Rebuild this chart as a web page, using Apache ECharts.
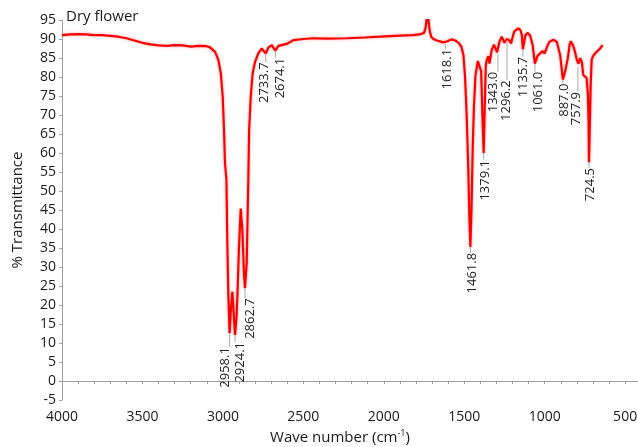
<!DOCTYPE html>
<html>
<head>
<meta charset="utf-8">
<script src="https://cdn.jsdelivr.net/npm/echarts@6/dist/echarts.min.js"></script>
<style>
html,body{margin:0;padding:0;background:#fff;}
#chart{width:638px;height:447px;}
</style>
</head>
<body>
<div id="chart"></div>
<script>
// ---- data ----
const wavenumbers = [
  4000, 3950, 3900, 3850, 3800, 3750, 3700, 3650, 3600, 3550,
  3500, 3450, 3400, 3350, 3300, 3250, 3200, 3150, 3142, 3100,
  3080, 3049, 3028, 3013, 3001, 2993, 2987, 2978, 2972, 2966,
  2958.1, 2950, 2941, 2933, 2929, 2924.1, 2915, 2910, 2900, 2889,
  2879, 2869, 2862.7, 2852, 2846, 2842, 2837, 2827, 2815, 2800,
  2780, 2759, 2749, 2733.7, 2717, 2696, 2674.1, 2655, 2603, 2562,
  2500, 2440, 2350, 2230, 2120, 2023, 1900, 1818, 1770, 1750,
  1740, 1733, 1728, 1722, 1714, 1705, 1692, 1670, 1645, 1630,
  1618.1, 1605, 1580, 1555, 1535, 1518, 1505, 1495, 1485, 1475,
  1468, 1461.8, 1455, 1448, 1440, 1430, 1415, 1405, 1395, 1387,
  1379.1, 1372, 1366, 1360, 1350, 1343, 1330, 1315, 1296.2, 1280,
  1267, 1250, 1236, 1221, 1209, 1190, 1163, 1150, 1142, 1135.7,
  1120, 1107, 1091, 1075, 1061, 1045, 1033, 1015, 1000, 985,
  970, 946, 925, 904, 887, 870, 856, 845, 838, 822,
  811, 800, 790, 780, 769, 760, 757.9, 750, 740, 732,
  728, 724.5, 720, 714, 708, 700, 680, 660, 640
];
const transmittance = [
  91.0, 91.2, 91.3, 91.2, 91.0, 91.0, 90.8, 90.6, 90.2, 89.6,
  89.0, 88.6, 88.3, 88.2, 88.4, 88.3, 88.0, 88.2, 88.3, 88.1,
  87.8, 86.6, 84.5, 81.0, 74.8, 66.0, 57.4, 52.9, 35.3, 22.2,
  12.6, 19.0, 23.5, 18.0, 15.0, 12.1, 17.0, 22.2, 35.3, 45.4,
  39.7, 28.3, 24.4, 31.0, 44.2, 52.9, 66.0, 74.8, 81.0, 84.0,
  86.2, 87.5, 88.0, 86.2, 87.8, 88.4, 86.9, 88.2, 88.7, 89.7,
  90.0, 90.2, 90.1, 90.2, 90.4, 90.6, 90.9, 91.0, 91.3, 91.6,
  93.0, 95.5, 96.3, 95.0, 92.0, 90.6, 90.0, 89.6, 89.3, 89.1,
  88.7, 89.4, 89.9, 89.6, 89.0, 88.0, 85.8, 80.0, 70.0, 56.0,
  43.0, 35.3, 45.0, 60.0, 72.0, 80.5, 84.2, 84.6, 81.5, 70.0,
  60.0, 73.0, 83.0, 84.5, 85.5, 83.5, 87.0, 88.5, 86.5, 89.5,
  90.6, 89.0, 90.0, 89.7, 88.8, 92.0, 92.8, 92.3, 91.0, 87.3,
  91.0, 91.6, 91.0, 88.5, 83.5, 85.5, 86.0, 86.8, 86.2, 88.0,
  89.3, 89.8, 89.3, 85.8, 79.3, 82.0, 85.0, 88.5, 89.4, 88.2,
  86.5, 84.5, 83.5, 84.9, 84.0, 80.5, 80.0, 81.0, 79.8, 76.0,
  70.0, 57.5, 66.0, 78.0, 84.5, 85.5, 86.5, 87.3, 88.4
];
const peakLabels = ['2958.1','2924.1','2862.7','2733.7','2674.1','1618.1','1461.8','1379.1','1343.0','1296.2','1135.7','1061.0','887.0','757.9','724.5'];
const peakWave   = [2958.1, 2924.1, 2862.7, 2733.7, 2674.1, 1618.1, 1461.8, 1379.1, 1343.0, 1296.2, 1135.7, 1061.0, 887.0, 757.9, 724.5];
const peakT      = [12.6, 12.1, 24.4, 86.2, 86.9, 88.7, 35.3, 60.0, 83.5, 86.5, 87.3, 83.5, 79.3, 80.0, 57.5];
const xTickLabels = [4000, 3500, 3000, 2500, 2000, 1500, 1000, 500];
const yTickLabels = [-5, 0, 5, 10, 15, 20, 25, 30, 35, 40, 45, 50, 55, 60, 65, 70, 75, 80, 85, 90, 95];

// ---- layout of the peak annotations (pixels): [labelDx, labelDy, tickDx, tickStartDy] ----
const peakLayout = [
  [-4, 14, 0, 0], [5.5, 7, 0, 0], [5.5, 10, 0, 0], [-1, 9, 0, 0], [5, 7, 0, 0],
  [2, 5, 0, 0], [1.5, 6, 0, 0], [1.5, 7, 0, 0], [4, 8, 8.4, -10], [9, 28, 10, -12],
  [0.6, 7.5, 0, 0], [3, 8, 0, 0], [1, 4, 0, 0], [-7, 15, -5.7, -10], [1.5, 5.5, 0, 0]
];

const FONT = "'Open Sans', 'Noto Sans', sans-serif";
const xMinorTicks = [];
for (let v = 500; v <= 4000; v += 100) xMinorTicks.push(v);

const lineData = wavenumbers.map((w, i) => [w, transmittance[i]]);
const peakData = peakWave.map((w, i) => [w, peakT[i]]);

function renderPeak(params, api) {
  const i = params.dataIndex;
  const p = api.coord([api.value(0), api.value(1)]);
  const L = peakLayout[i];
  return {
    type: 'group',
    children: [
      { type: 'line',
        shape: { x1: p[0] + L[2], y1: p[1] + L[3], x2: p[0] + L[2], y2: p[1] + L[1] },
        style: { stroke: '#ababab', lineWidth: 1 } },
      { type: 'text', x: p[0] + L[0], y: p[1] + L[1], rotation: Math.PI / 2,
        style: { text: peakLabels[i], align: 'right', verticalAlign: 'middle',
                 fontSize: 13, fontFamily: FONT, fill: '#222' } }
    ]
  };
}

const chart = echarts.init(document.getElementById('chart'), null, { renderer: 'canvas' });
chart.setOption({
  animation: false,
  backgroundColor: '#fff',
  grid: { left: 62, right: 0, top: 20, bottom: 47, containLabel: false, outerBoundsMode: 'none' },
  graphic: [{
    type: 'text', left: 66, top: 9,
    style: { text: 'Dry flower', fontSize: 15, fontFamily: FONT, fill: '#1a1a1a' }
  }],
  xAxis: {
    type: 'value', inverse: true, min: 420, max: 4000,
    name: '{a|Wave number (cm}{b|-1}{a|)}',
    nameLocation: 'middle', nameGap: 27,
    nameTextStyle: {
      padding: [0, 20, 0, 0],
      rich: {
        a: { fontSize: 15, fontFamily: FONT, color: '#1a1a1a', lineHeight: 18 },
        b: { fontSize: 9, fontFamily: FONT, color: '#1a1a1a', verticalAlign: 'top', lineHeight: 10 }
      }
    },
    axisLine: { lineStyle: { color: '#a0a0a0', width: 1 } },
    axisTick: { customValues: xMinorTicks, length: 3, lineStyle: { color: '#a0a0a0' } },
    axisLabel: { customValues: xTickLabels, margin: 10, fontSize: 14, fontFamily: FONT, color: '#1a1a1a',
                 formatter: v => String(v) },
    splitLine: { show: false }
  },
  yAxis: {
    type: 'value', min: -5, max: 95, interval: 5,
    name: '% Transmittance', nameLocation: 'middle', nameGap: 37, nameRotate: 90,
    nameTextStyle: { fontSize: 15, fontFamily: FONT, color: '#1a1a1a' },
    axisLine: { show: true, lineStyle: { color: '#a0a0a0', width: 1 } },
    axisTick: { show: true, length: 3, lineStyle: { color: '#a0a0a0' } },
    axisLabel: { customValues: yTickLabels, margin: 6, fontSize: 14, fontFamily: FONT, color: '#1a1a1a',
                 formatter: v => String(v) },
    splitLine: { show: false }
  },
  series: [
    { type: 'line', data: lineData, showSymbol: false, z: 3,
      lineStyle: { color: '#ff0000', width: 2.2, shadowColor: 'rgba(255,0,0,0.35)', shadowBlur: 3 } },
    { type: 'custom', data: peakData, renderItem: renderPeak, z: 4, silent: true }
  ]
});
</script>
</body>
</html>
